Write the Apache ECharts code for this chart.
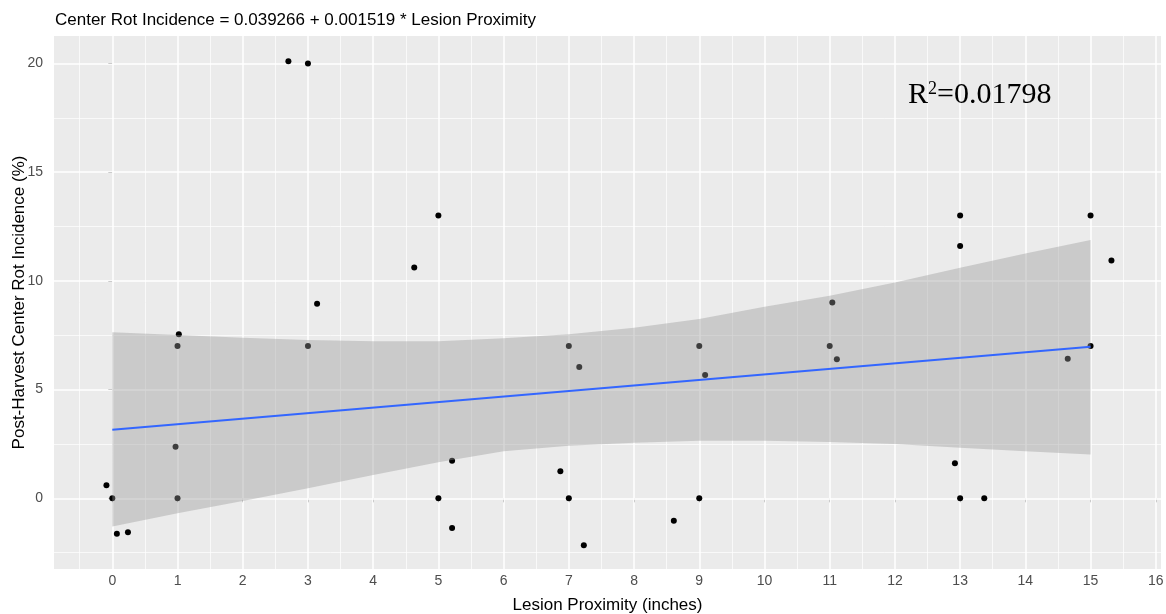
<!DOCTYPE html>
<html><head><meta charset="utf-8">
<script src="https://cdn.jsdelivr.net/npm/echarts@6/dist/echarts.min.js"></script>
<style>html,body{margin:0;padding:0;background:#fff}#c{width:1166px;height:614px}</style>
</head><body><div id="c"></div>
<script>
// ---- text ----
const titleText = 'Center Rot Incidence = 0.039266 + 0.001519 * Lesion Proximity';
const xName = 'Lesion Proximity (inches)';
const yName = 'Post-Harvest Center Rot Incidence (%)';
const r2Label = 'R';
const r2Sup = '2';
const r2Value = '=0.01798';
const r2Pos = [13.3, 18.55];

// ---- axes / ticks ----
const xRange = [-0.894, 16.08];
const yRange = [-3.25, 21.26];
const xTicks = [0,1,2,3,4,5,6,7,8,9,10,11,12,13,14,15,16];
const xMinor = [-0.5,0.5,1.5,2.5,3.5,4.5,5.5,6.5,7.5,8.5,9.5,10.5,11.5,12.5,13.5,14.5,15.5];
const yTicks = [0,5,10,15,20];
const yMinor = [-2.5,2.5,7.5,12.5,17.5];

// ---- observations ----
const obsX = [-0.09,0,0.07,0.24,0.97,1,1.02,1,2.7,3.0,3.0,3.14,4.63,5,5,5.21,5.21,6.87,7,7,7.16,7.23,8.61,9,9,9.09,11,11.04,11.11,12.92,13,13.37,13,13,14.65,15,15,15.32];
const obsY = [0.6,0,-1.63,-1.56,2.37,0,7.55,7,20.1,20.0,7.0,8.95,10.62,13,0,1.73,-1.37,1.24,0,7,6.04,-2.16,-1.03,0,7,5.67,7,9.01,6.4,1.61,0,0,13,11.6,6.42,13,7,10.94];

// ---- fitted line and confidence band ----
const fitX = [0, 15];
const fitY = [3.15, 6.97];
const bandX = [0,1,2,3,4,5,6,7,8,9,10,11,12,13,14,15];
const bandLower = [-1.30,-0.69,-0.12,0.46,1.07,1.66,2.17,2.42,2.56,2.65,2.65,2.59,2.50,2.33,2.17,2.02];
const bandUpper = [7.64,7.51,7.38,7.28,7.22,7.22,7.36,7.55,7.84,8.25,8.81,9.31,9.93,10.60,11.26,11.88];

const FONT = 'Liberation Sans, Arial, sans-serif';
const chart = echarts.init(document.getElementById('c'), null, {renderer: 'canvas'});

const gridLines = [].concat(
  xMinor.map(v => ({xAxis: v, lineStyle: {width: 0.7}})),
  yMinor.map(v => ({yAxis: v, lineStyle: {width: 0.7}})),
  xTicks.map(v => ({xAxis: v, lineStyle: {width: 1.5}})),
  yTicks.map(v => ({yAxis: v, lineStyle: {width: 1.5}}))
);

function renderBand(params, api) {
  if (params.dataIndex !== 0) return null;
  const pts = [];
  for (let i = 0; i < bandX.length; i++) pts.push(api.coord([bandX[i], bandUpper[i]]));
  for (let i = bandX.length - 1; i >= 0; i--) pts.push(api.coord([bandX[i], bandLower[i]]));
  return {
    type: 'polygon',
    shape: {points: pts},
    style: {fill: 'rgba(153,153,153,0.4)', stroke: 'none'},
    silent: true
  };
}

const option = {
  animation: false,
  backgroundColor: '#ffffff',
  title: {
    text: titleText, left: 55, top: 12, padding: 0,
    textStyle: {fontFamily: FONT, fontSize: 17, fontWeight: 'normal', color: '#000'}
  },
  grid: {left: 54, right: 5, top: 36, bottom: 45, show: true, backgroundColor: '#EBEBEB', borderWidth: 0,
         outerBoundsMode: 'none', containLabel: false},
  xAxis: {
    type: 'value', min: xRange[0], max: xRange[1],
    splitLine: {show: false},
    axisLine: {show: false},
    axisTick: {show: true, length: 4, lineStyle: {color: '#333', width: 1}, customValues: xTicks},
    axisLabel: {customValues: xTicks, color: '#4D4D4D', fontSize: 14, fontFamily: FONT, margin: 5},
    name: xName, nameLocation: 'middle', nameGap: 28, nameMoveOverlap: false,
    nameTextStyle: {fontFamily: FONT, fontSize: 17, color: '#000'}
  },
  yAxis: {
    type: 'value', min: yRange[0], max: yRange[1],
    splitLine: {show: false},
    axisLine: {show: false},
    axisTick: {show: true, length: 4, lineStyle: {color: '#333', width: 1}, customValues: yTicks},
    axisLabel: {customValues: yTicks, color: '#4D4D4D', fontSize: 14, fontFamily: FONT, margin: 11},
    name: yName, nameLocation: 'middle', nameGap: 26, nameMoveOverlap: false,
    nameTextStyle: {fontFamily: FONT, fontSize: 17, color: '#000'}
  },
  series: [
    {
      type: 'line', data: [], z: 1, silent: true,
      markLine: {
        silent: true, z: 1, symbol: ['none','none'], animation: false,
        label: {show: false},
        lineStyle: {color: '#ffffff', type: 'solid'},
        emphasis: {disabled: true},
        data: gridLines
      }
    },
    {
      type: 'scatter', z: 2, symbolSize: 6,
      itemStyle: {color: '#000', opacity: 1},
      data: obsX.map((x, i) => [x, obsY[i]])
    },
    {
      type: 'custom', z: 3, silent: true,
      renderItem: renderBand,
      data: bandX.map((x, i) => [x, bandLower[i], bandUpper[i]]),
      encode: {x: 0, y: [1, 2]}
    },
    {
      type: 'line', z: 4, symbol: 'none', silent: true,
      lineStyle: {color: '#3366FF', width: 2},
      data: fitX.map((x, i) => [x, fitY[i]])
    }
  ]
};
chart.setOption(option);
const p = chart.convertToPixel({gridIndex: 0}, r2Pos);
chart.setOption({
  graphic: [{
    type: 'text', x: p[0], y: p[1], z: 10,
    style: {
      text: '{a|' + r2Label + '}{s|' + r2Sup + '}{a|' + r2Value + '}',
      align: 'center', verticalAlign: 'middle',
      rich: {
        a: {fontFamily: '"Liberation Serif", "Times New Roman", serif', fontSize: 30, fill: '#000', color: '#000', verticalAlign: 'bottom'},
        s: {fontFamily: '"Liberation Serif", "Times New Roman", serif', fontSize: 18, fill: '#000', color: '#000', verticalAlign: 'top'}
      }
    }
  }]
});
</script>
</body></html>
